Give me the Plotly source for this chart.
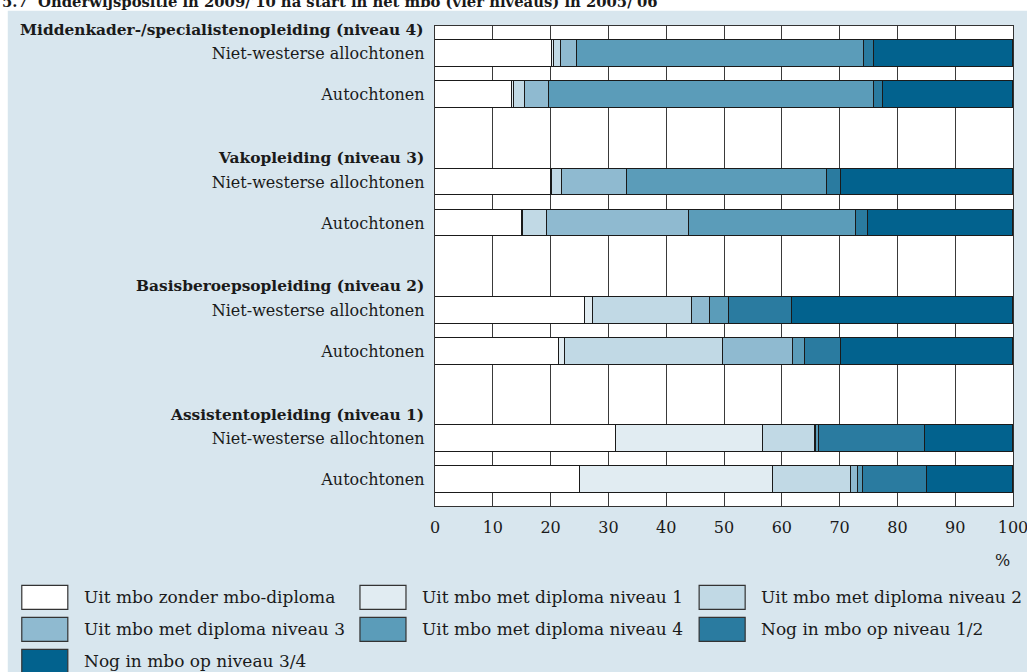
import plotly.graph_objects as go

# ---------------- data ----------------
title = "5.7  Onderwijspositie in 2009/'10 na start in het mbo (vier niveaus) in 2005/'06"
groups = [
    "Middenkader-/specialistenopleiding (niveau 4)",
    "Vakopleiding (niveau 3)",
    "Basisberoepsopleiding (niveau 2)",
    "Assistentopleiding (niveau 1)",
]
members = ["Niet-westerse allochtonen", "Autochtonen"]
series_names = [
    "Uit mbo zonder mbo-diploma",
    "Uit mbo met diploma niveau 1",
    "Uit mbo met diploma niveau 2",
    "Uit mbo met diploma niveau 3",
    "Uit mbo met diploma niveau 4",
    "Nog in mbo op niveau 1/2",
    "Nog in mbo op niveau 3/4",
]
# order of rows: N4 NW, N4 A, N3 NW, N3 A, N2 NW, N2 A, N1 NW, N1 A
zonder   = [20.3, 13.4, 20.0, 15.0, 25.9, 21.4, 31.4, 25.0]
dipl1    = [0.3, 0.3, 0.2, 0.2, 1.4, 1.1, 25.3, 33.4]
dipl2    = [1.2, 1.8, 1.8, 4.1, 17.2, 27.3, 9.0, 13.6]
dipl3    = [2.7, 4.2, 11.2, 24.6, 3.0, 12.2, 0.3, 1.2]
dipl4    = [49.8, 56.3, 34.7, 29.0, 3.3, 2.0, 0.4, 0.9]
nog12    = [1.6, 1.5, 2.4, 2.0, 11.0, 6.2, 18.4, 11.0]
nog34    = [24.1, 22.5, 29.7, 25.1, 38.2, 29.8, 15.2, 14.9]
series_values = [zonder, dipl1, dipl2, dipl3, dipl4, nog12, nog34]
x_ticks = [0, 10, 20, 30, 40, 50, 60, 70, 80, 90, 100]
x_unit = "%"

# ---------------- style ----------------
colors = ["#ffffff", "#e1ecf2", "#c1d9e5", "#8fbad0", "#5b9cb9", "#2a7ba0", "#02628e"]
bg = "#d8e6ee"
ink = "#1a1a1a"
FONT = "DejaVu Serif"

W, H = 1027, 672
L, R, T, B = 435, 14.3, 25.7, 166.3
plot_w = W - L - R
plot_h = H - T - B

GROUP_STEP = 3.13
y_pos = []
y_lab = []
for gi, g in enumerate(groups):
    for mi, m in enumerate(members):
        y_pos.append(gi * GROUP_STEP + mi)
        y_lab.append(m)
y_top = -0.673
y_bot = y_top + plot_h / 41.0


def px_x(X):
    return (X - L) / plot_w


def px_y(Y):
    return 1 - (Y - T) / plot_h


fig = go.Figure()
for name, vals, col in zip(series_names, series_values, colors):
    fig.add_trace(go.Bar(
        y=y_pos, x=vals, orientation="h", name=name, width=0.651,
        marker=dict(color=col, line=dict(color=ink, width=1.2)),
        showlegend=False,
    ))

annotations = []
shapes = []
# white page strips (top and left) around the light-blue panel
shapes.append(dict(type="rect", xref="paper", yref="paper", x0=px_x(-5), x1=px_x(W + 5),
                   y0=px_y(10.5), y1=px_y(-5), fillcolor="white", line=dict(width=0), layer="below"))
shapes.append(dict(type="rect", xref="paper", yref="paper", x0=px_x(-5), x1=px_x(8),
                   y0=px_y(H + 5), y1=px_y(-5), fillcolor="white", line=dict(width=0), layer="below"))
# title (cut off at top like the reference)
annotations.append(dict(text="<b>%s</b>" % title, xref="paper", yref="paper",
                        x=px_x(0), y=px_y(1), xanchor="left", yanchor="middle",
                        showarrow=False, font=dict(family=FONT, size=14.8, color=ink)))
# group headers
for gi, g in enumerate(groups):
    annotations.append(dict(
        text="<b>%s</b>" % g, xref="paper", yref="y", x=0, xshift=-9,
        y=gi * GROUP_STEP - 0.58, xanchor="right", yanchor="middle",
        showarrow=False, font=dict(family=FONT, size=15.4, color=ink)))
# unit
annotations.append(dict(text=x_unit, xref="paper", yref="paper",
                        x=px_x(1002), y=px_y(560), xanchor="center", yanchor="middle",
                        showarrow=False, font=dict(family=FONT, size=16, color=ink)))

# legend
col_sw = [22, 360, 699]
row_y = [597, 629, 661]
for i, (name, col) in enumerate(zip(series_names, colors)):
    r, c = divmod(i, 3)
    x0 = col_sw[c]
    yc = row_y[r]
    shapes.append(dict(type="rect", xref="paper", yref="paper",
                       x0=px_x(x0), x1=px_x(x0 + 46), y0=px_y(yc + 12), y1=px_y(yc - 12),
                       fillcolor=col, line=dict(color="#333333", width=1.2)))
    annotations.append(dict(text=name, xref="paper", yref="paper",
                            x=px_x(x0 + 60), y=px_y(yc), xanchor="left", yanchor="middle",
                            showarrow=False, font=dict(family=FONT, size=17, color=ink)))

fig.update_layout(
    width=W, height=H, autosize=False,
    margin=dict(l=L, r=R, t=T, b=B, pad=0),
    paper_bgcolor=bg, plot_bgcolor="white",
    barmode="stack", bargap=0,
    font=dict(family=FONT, size=16, color=ink),
    annotations=annotations, shapes=shapes,
    xaxis=dict(range=[0, 100], tickvals=x_ticks, ticktext=[str(t) for t in x_ticks],
               showgrid=True, gridcolor="#3a3a3a", gridwidth=1.3,
               showline=True, mirror=True, linecolor="#333333", linewidth=1.3,
               ticks="outside", ticklen=7, tickcolor="rgba(0,0,0,0)",
               ticklabeloverflow="allow", automargin=False,
               zeroline=False, fixedrange=True),
    yaxis=dict(range=[y_bot, y_top], tickvals=y_pos, ticktext=y_lab,
               showgrid=False, showline=True, mirror=True, linecolor="#333333", linewidth=1.3,
               ticks="outside", ticklen=6, tickcolor="rgba(0,0,0,0)",
               automargin=False,
               zeroline=False, fixedrange=True),
)

fig.write_html("out.html",
               config={"displayModeBar": False, "responsive": False},
               post_script="document.body.style.margin='0';document.body.style.overflow='hidden';")
